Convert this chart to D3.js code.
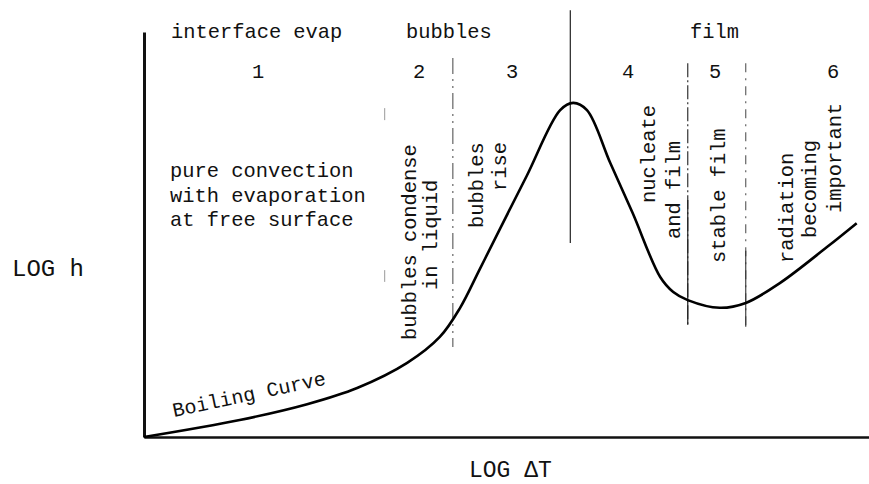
<!DOCTYPE html>
<html>
<head>
<meta charset="utf-8">
<script src="https://cdn.jsdelivr.net/npm/d3@7"></script>
<style>
  html, body { margin: 0; padding: 0; background: #fff; }
  svg text { font-family: "Liberation Mono", "DejaVu Sans Mono", monospace; fill: #111; }
</style>
</head>
<body>
<svg id="chart" width="869" height="484"></svg>
<script>
// ---- data (LOG ΔT, LOG h in arbitrary log units 0..10) ----
const logDT = [0, 1.32, 2.25, 2.94, 3.63, 4.08, 4.36, 4.63, 4.91, 5.28, 5.74, 5.92, 6.11, 6.43, 6.74, 7.12, 7.30, 7.50, 7.94, 8.30, 8.77, 9.42, 9.83];
const logH  = [0, 0.42, 0.81, 1.21, 1.83, 2.47, 3.19, 4.14, 5.14, 6.45, 8.07, 8.25, 8.07, 6.77, 5.53, 3.95, 3.58, 3.38, 3.19, 3.31, 3.80, 4.69, 5.28];

const regionNumbers = ["1", "2", "3", "4", "5", "6"];
const boundaries = [3.32, 4.26, 5.88, 7.50, 8.30];
const headerLabels = ["interface evap", "bubbles", "film"];
const xLabel = "LOG \u0394T";
const yLabel = "LOG h";
const curveLabel = "Boiling Curve";
const convectionLines = ["pure convection", "with evaporation", "at free surface"];

// ---- setup ----
const svg = d3.select("#chart");
const x = d3.scaleLinear().domain([0, 10]).range([144, 869]);
const y = d3.scaleLinear().domain([0, 10]).range([437, 32]);

// axes (no ticks, only the domain lines)
const xAxis = svg.append("g").attr("transform", `translate(0,${y(0)})`)
  .call(d3.axisBottom(x).tickValues([]).tickSizeOuter(0));
xAxis.select(".domain").attr("stroke", "#111").attr("stroke-width", 2.5);
const yAxis = svg.append("g").attr("transform", `translate(${x(0)},0)`)
  .call(d3.axisLeft(y).tickValues([]).tickSizeOuter(0));
yAxis.select(".domain").attr("stroke", "#111").attr("stroke-width", 3);

// region boundaries
const bStyle = [
  { y0: 8.12, y1: 3.83, color: "#999", w: 1, dash: "12,150" },
  { y0: 9.36, y1: 2.22, color: "#555", w: 1.1, dash: "16,5,2,5,2,5" },
  { y0: 10.54, y1: 4.79, color: "#222", w: 1.2, dash: null },
  { y0: 9.23, y1: 2.77, color: "#333", w: 1.2, dash: "14,3,2,3" },
  { y0: 9.23, y1: 2.72, color: "#555", w: 1.1, dash: "9,6,2,6" }
];
boundaries.forEach((bx, i) => {
  const s = bStyle[i];
  const ln = svg.append("line")
    .attr("x1", x(bx)).attr("x2", x(bx))
    .attr("y1", y(s.y0)).attr("y2", y(s.y1))
    .attr("stroke", s.color).attr("stroke-width", s.w);
  if (s.dash) ln.attr("stroke-dasharray", s.dash);
});
// lower solid part of 4/5 and 5/6 boundaries
svg.append("line").attr("x1", x(boundaries[3])).attr("x2", x(boundaries[3]))
  .attr("y1", y(5.85)).attr("y2", y(2.77)).attr("stroke", "#222").attr("stroke-width", 1.2);
svg.append("line").attr("x1", x(boundaries[4])).attr("x2", x(boundaries[4]))
  .attr("y1", y(4.6)).attr("y2", y(2.72)).attr("stroke", "#333").attr("stroke-width", 1.1);

// boiling curve
const pts = logDT.map((d, i) => [d, logH[i]]);
svg.append("path")
  .datum(pts)
  .attr("fill", "none")
  .attr("stroke", "#000")
  .attr("stroke-width", 2.6)
  .attr("stroke-linejoin", "round")
  .attr("d", d3.line().x(d => x(d[0])).y(d => y(d[1])).curve(d3.curveCatmullRom.alpha(0.5)));

// header labels
const fs = "20.4px";
const headerPos = [[171, 38], [406, 38], [690, 38]];
headerLabels.forEach((t, i) => {
  svg.append("text").attr("x", headerPos[i][0]).attr("y", headerPos[i][1])
    .attr("font-size", fs).text(t);
});

// region numbers
const numX = [258, 419, 512, 628, 715, 833];
regionNumbers.forEach((t, i) => {
  svg.append("text").attr("x", numX[i]).attr("y", 78)
    .attr("text-anchor", "middle").attr("font-size", fs).text(t);
});

// convection block
convectionLines.forEach((t, i) => {
  svg.append("text").attr("x", 170).attr("y", 177 + i * 24.5)
    .attr("font-size", fs).text(t);
});

// rotated region descriptions: [text, baselineX, bottomY]
const rotated = [
  ["bubbles condense", 416, 340],
  ["in liquid", 437, 290],
  ["bubbles", 483, 228],
  ["rise", 506, 191],
  ["nucleate", 655, 203],
  ["and film", 680, 239],
  ["stable film", 725, 263],
  ["radiation", 793, 263],
  ["becoming", 816, 238],
  ["important", 841, 213]
];
rotated.forEach(([t, bx, by]) => {
  svg.append("text")
    .attr("transform", `translate(${bx},${by}) rotate(-90)`)
    .attr("font-size", fs).text(t);
});

// curve label
svg.append("text")
  .attr("transform", "translate(174,417) rotate(-12)")
  .attr("font-size", "20px").text(curveLabel);

// axis labels
svg.append("text").attr("x", 12).attr("y", 276).attr("font-size", "24px").text(yLabel);
svg.append("text").attr("x", 469).attr("y", 477).attr("font-size", "23px").text(xLabel);
</script>
</body>
</html>
